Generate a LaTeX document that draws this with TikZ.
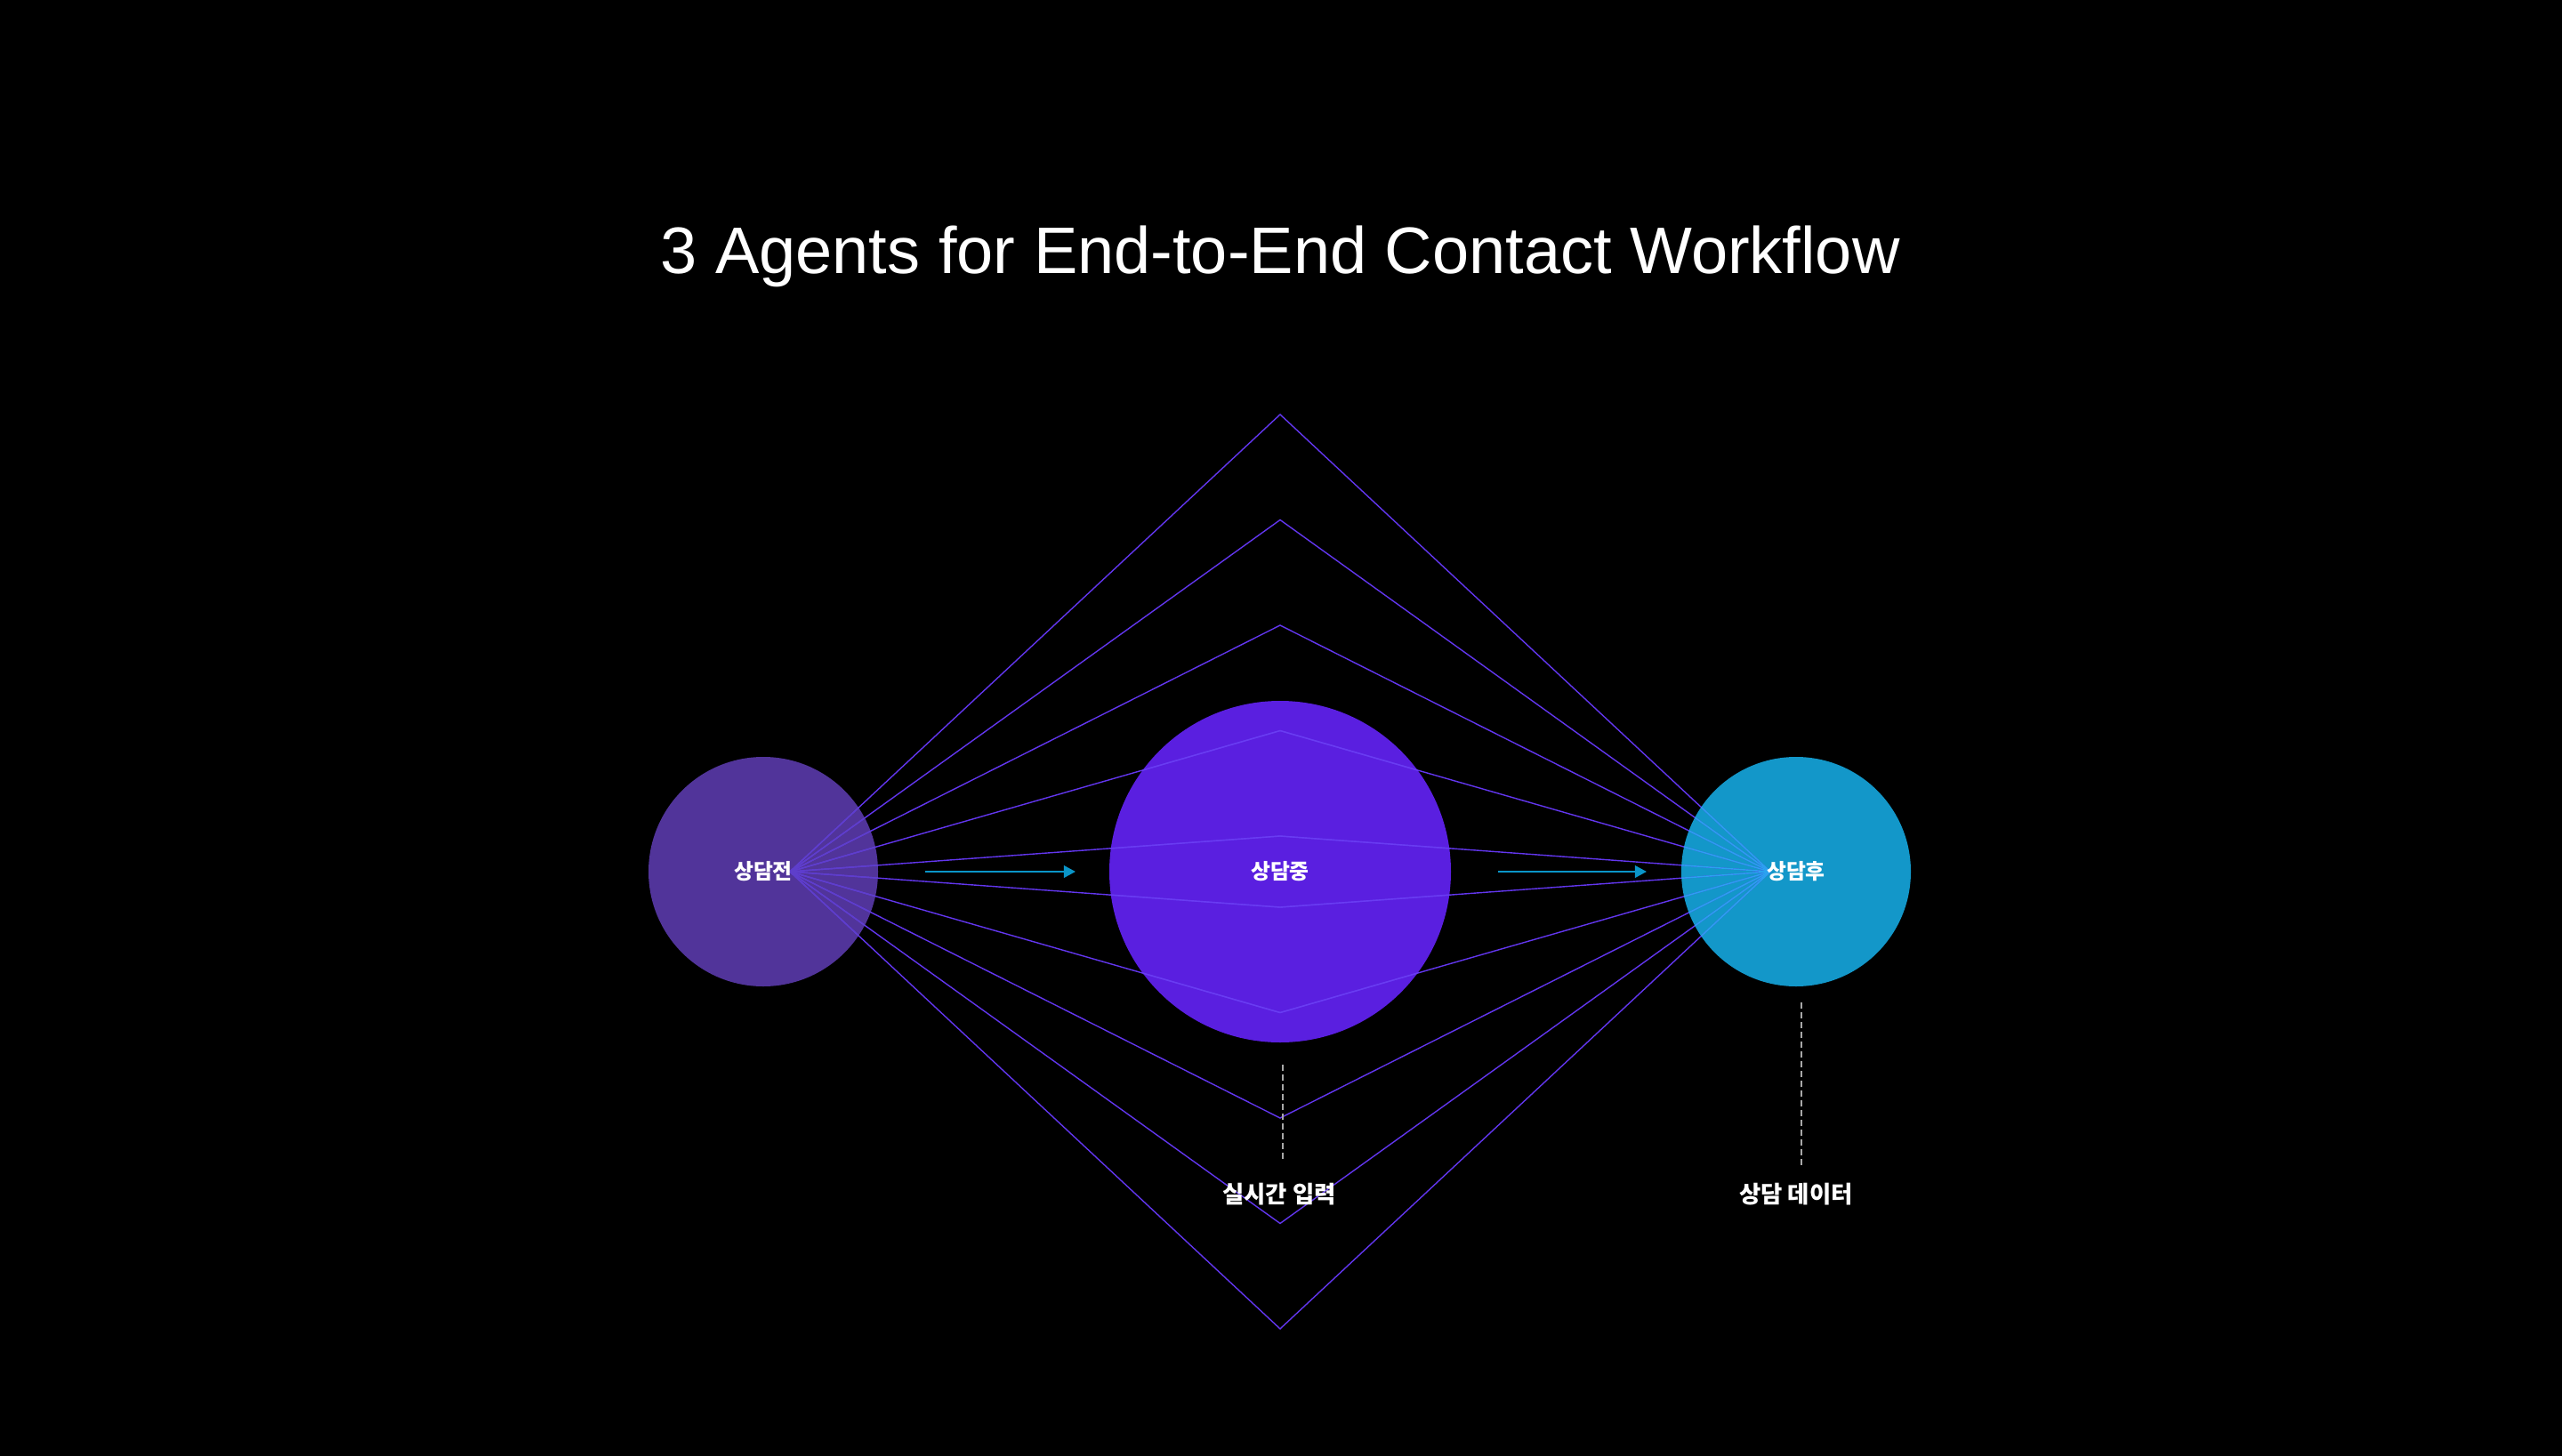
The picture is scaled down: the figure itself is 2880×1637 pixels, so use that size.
\documentclass[tikz,border=0pt]{standalone}
\usepackage{fontspec}
\setmainfont{Liberation Sans}
\newfontfamily\krfont{Noto Sans CJK KR}
\usetikzlibrary{arrows.meta}
\definecolor{bgblack}{HTML}{000000}
\definecolor{linepurple}{HTML}{6236EE}
\definecolor{cleft}{HTML}{51349A}
\definecolor{cmid}{HTML}{5A1FE0}
\definecolor{cright}{HTML}{1397C9}
\definecolor{lineleft}{HTML}{5E3FCB}
\definecolor{linemid}{HTML}{6A3CF2}
\definecolor{lineright}{HTML}{2AA3F0}
\definecolor{arrowteal}{HTML}{0A95C8}
\definecolor{dashgray}{HTML}{A8A8A8}
\tikzset{
  agent/.style={circle, inner sep=0pt, draw=none},
  agentlabel/.style={text=white, font=\krfont\bfseries\fontsize{5.95pt}{7pt}\selectfont, inner sep=0pt},
  sublabel/.style={text=white, font=\krfont\bfseries\fontsize{6.6pt}{8pt}\selectfont, inner sep=0pt},
  rayline/.style={line width=0.35pt},
  flowarrow/.style={draw=arrowteal, line width=0.6pt, -{Triangle[length=3.3pt,width=3.4pt]}},
  guide/.style={draw=dashgray, line width=0.4pt, dash pattern=on 1.75pt off 1pt},
}
\begin{document}
\begin{tikzpicture}[x=0.25pt,y=-0.25pt]
\fill[bgblack] (0,0) rectangle (2880,1637);
\useasboundingbox (0,0) rectangle (2880,1637);
% title
\node[text=white, font=\fontsize{18.5pt}{22pt}\selectfont, anchor=base, inner sep=0pt] (title) at (1439,308) {3 Agents for End-to-End Contact Workflow};
% circles
\node[agent, fill=cleft, minimum size=64.5pt] (pre) at (858,980) {};
\node[agent, fill=cmid, minimum size=96pt] (mid) at (1439,980) {};
\node[agent, fill=cright, minimum size=64.5pt] (post) at (2019,980) {};
% convergence points and apexes
\coordinate (L) at (888,980);
\coordinate (R) at (1990,980);
\foreach \i/\d in {1/40,2/158.5,3/277,4/395.5,5/514}{
  \coordinate (up\i) at (1439,980-\d);
  \coordinate (dn\i) at (1439,980+\d);
}
% rays
\foreach \i in {1,...,5}{
  \draw[rayline, linepurple] (L) -- (up\i) -- (R);
  \draw[rayline, linepurple] (L) -- (dn\i) -- (R);
}
% tinted rays inside circles
\begin{scope}
\clip (pre.center) circle[radius=32.25pt];
\foreach \i in {1,...,5}{
  \draw[rayline, lineleft] (L) -- (up\i);
  \draw[rayline, lineleft] (L) -- (dn\i);
}
\end{scope}
\begin{scope}
\clip (mid.center) circle[radius=48pt];
\foreach \i in {1,...,5}{
  \draw[rayline, linemid] (L) -- (up\i) -- (R);
  \draw[rayline, linemid] (L) -- (dn\i) -- (R);
}
\end{scope}
\begin{scope}
\clip (post.center) circle[radius=32.25pt];
\foreach \i in {1,...,5}{
  \draw[rayline, lineright] (R) -- (up\i);
  \draw[rayline, lineright] (R) -- (dn\i);
}
\end{scope}
% labels
\node[agentlabel] (prelabel) at (858,980) {상담전};
\node[agentlabel] (midlabel) at (1439,980) {상담중};
\node[agentlabel] (postlabel) at (2019,980) {상담후};
% arrows
\coordinate (a1s) at (1040,980);
\coordinate (a1e) at (1209,980);
\coordinate (a2s) at (1684,980);
\coordinate (a2e) at (1851,980);
\draw[flowarrow] (a1s) -- (a1e);
\draw[flowarrow] (a2s) -- (a2e);
% guides
\coordinate (g1t) at (1442,1197);
\coordinate (g1b) at (1442,1303);
\coordinate (g2t) at (2025,1127);
\coordinate (g2b) at (2025,1313);
\draw[guide] (g1t) -- (g1b);
\draw[guide] (g2t) -- (g2b);
\node[sublabel] (rtlabel) at (1438,1343) {실시간 입력};
\node[sublabel] (datalabel) at (2019,1343) {상담 데이터};
\end{tikzpicture}
\end{document}
